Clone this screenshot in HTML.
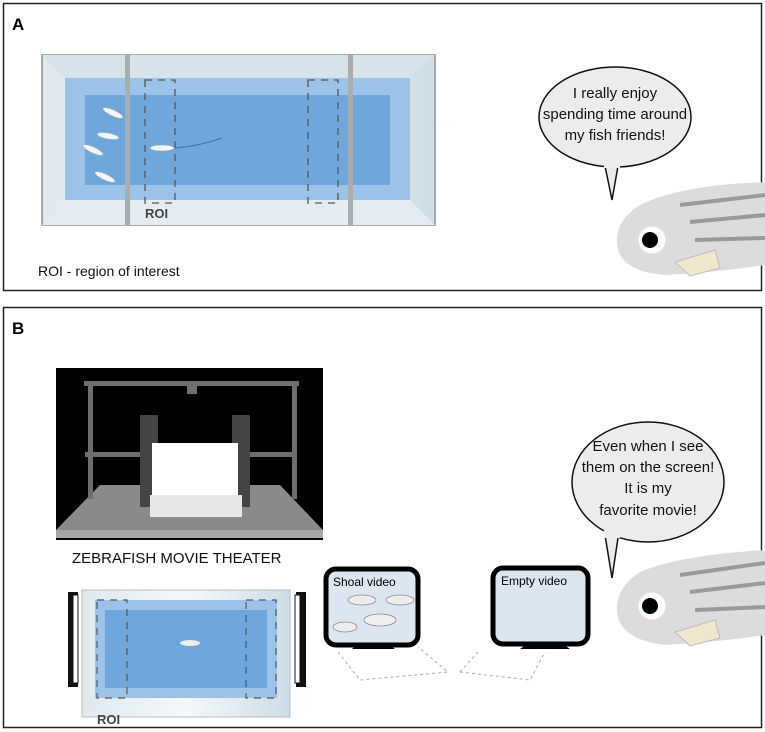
<!DOCTYPE html>
<html><head><meta charset="utf-8"><style>
html,body{margin:0;padding:0;background:#fff;}
svg{display:block;}
text{font-family:"Comic Sans MS","Liberation Sans",sans-serif;}
</style></head><body>
<svg width="765" height="732" viewBox="0 0 765 732" xmlns="http://www.w3.org/2000/svg">
<defs>
<linearGradient id="glass" x1="0" x2="1"><stop offset="0" stop-color="#dfe9ef"/><stop offset=".5" stop-color="#f4f8fa"/><stop offset="1" stop-color="#cddde6"/></linearGradient>
</defs>
<rect width="765" height="732" fill="#fff"/>
<!-- Panel A -->
<rect x="3.5" y="3.5" width="758" height="287" fill="#fff" stroke="#222" stroke-width="1.5"/>
<text x="12" y="30" font-size="17" font-weight="bold">A</text>
<rect x="42" y="55" width="393" height="170" fill="url(#glass)" stroke="#8a8f93" stroke-width="1.5"/>
<polygon points="42,55 65,78 410,78 435,55" fill="#d6e3ea"/>
<polygon points="42,225 65,200 410,200 435,225" fill="#e4ecf1"/>
<rect x="65" y="78" width="345" height="122" fill="#9dc2e8"/>
<rect x="85" y="95" width="305" height="90" fill="#6fa6dc"/>
<rect x="125" y="55" width="5" height="170" fill="#a9adb0"/>
<rect x="348" y="55" width="5" height="170" fill="#a9adb0"/>
<g fill="none" stroke="#555" stroke-width="1.3" stroke-dasharray="7,6">
<rect x="145" y="80" width="30" height="123"/><rect x="308" y="80" width="30" height="123"/>
</g>
<g fill="#f2f4f5" stroke="#9aa" stroke-width=".5">
<ellipse cx="113" cy="113" rx="11" ry="3" transform="rotate(25 113 113)"/>
<ellipse cx="108" cy="136" rx="11" ry="3" transform="rotate(10 108 136)"/>
<ellipse cx="93" cy="150" rx="11" ry="3" transform="rotate(25 93 150)"/>
<ellipse cx="105" cy="177" rx="11" ry="3" transform="rotate(25 105 177)"/>
<ellipse cx="162" cy="148" rx="12" ry="3"/>
</g>
<path d="M175 148 Q200 146 222 138" stroke="#4a6f99" fill="none"/>
<text x="145" y="218" font-size="13" font-weight="bold" fill="#444" font-family="Liberation Sans">ROI</text>
<text x="38" y="276" font-size="14" fill="#111">ROI - region of interest</text>
<ellipse cx="615" cy="117" rx="76" ry="50" fill="#ececec" stroke="#111" stroke-width="1.5"/>
<path d="M605 166 L612 200 L618 166" fill="#ececec" stroke="#111" stroke-width="1.5"/>
<rect x="604" y="160" width="16" height="8" fill="#ececec"/>
<text font-size="15" text-anchor="middle" fill="#111"><tspan x="615" y="98">I really enjoy</tspan><tspan x="615" y="119">spending time around</tspan><tspan x="615" y="140">my fish friends!</tspan></text>
<!-- fish A -->
<path d="M765 182 Q680 185 640 205 Q612 222 618 250 Q625 272 665 275 Q720 272 765 265 Z" fill="#dcdcde"/>
<g stroke="#9a9a9c" stroke-width="4" fill="none"><path d="M680 205 L765 195"/><path d="M690 222 L765 215"/><path d="M695 240 L765 238"/></g>
<polygon points="675,262 715,250 720,268 690,276" fill="#efe8cf" stroke="#bbb"/>
<circle cx="652" cy="240" r="14" fill="#fff" stroke="#f0d6d6"/><circle cx="650" cy="240" r="8" fill="#000"/>
<!-- Panel B -->
<rect x="3.5" y="307.5" width="758" height="420" fill="#fff" stroke="#222" stroke-width="1.5"/>
<text x="12" y="334" font-size="17" font-weight="bold">B</text>
<rect x="56" y="368" width="267" height="172" fill="#000"/>
<polygon points="56,530 100,485 280,485 323,530" fill="#8a8a8a"/>
<rect x="56" y="530" width="267" height="8" fill="#a5a5a5"/>
<g fill="#6e6e6e"><rect x="84" y="381" width="215" height="5"/><rect x="88" y="381" width="5" height="118"/><rect x="292" y="381" width="5" height="118"/><rect x="85" y="452" width="60" height="5"/><rect x="236" y="452" width="60" height="5"/><rect x="187" y="386" width="10" height="8"/></g>
<rect x="140" y="415" width="18" height="92" fill="#444"/><rect x="232" y="415" width="18" height="92" fill="#444"/>
<rect x="152" y="443" width="86" height="52" fill="#fff"/>
<rect x="150" y="495" width="92" height="22" fill="#e8e8e8"/>
<text x="72" y="563" font-size="15" fill="#111">ZEBRAFISH MOVIE THEATER</text>
<rect x="68" y="592" width="10" height="95" fill="#111"/><rect x="73" y="595" width="5" height="88" fill="#fff" stroke="#111"/>
<rect x="296" y="592" width="10" height="95" fill="#111"/><rect x="295" y="595" width="5" height="88" fill="#fff" stroke="#111"/>
<rect x="82" y="590" width="208" height="127" fill="url(#glass)" stroke="#bbb"/>
<rect x="95" y="600" width="182" height="98" fill="#9dc2e8"/>
<rect x="105" y="610" width="162" height="78" fill="#6fa6dc"/>
<g fill="none" stroke="#555" stroke-width="1.2" stroke-dasharray="7,6"><rect x="97" y="600" width="30" height="98"/><rect x="246" y="600" width="30" height="98"/></g>
<ellipse cx="190" cy="643" rx="10" ry="3" fill="#eee"/>
<text x="97" y="724" font-size="13" font-weight="bold" fill="#444" font-family="Liberation Sans">ROI</text>
<!-- monitors -->
<rect x="326" y="569" width="92" height="76" rx="10" fill="#dbe6f1" stroke="#000" stroke-width="5"/>
<path d="M352 649 L395 649 L388 644 L358 644Z" fill="#000"/>
<text x="333" y="586" font-size="12">Shoal video</text>
<g fill="#eee" stroke="#888" stroke-width=".8"><ellipse cx="362" cy="600" rx="14" ry="5"/><ellipse cx="400" cy="600" rx="14" ry="5"/><ellipse cx="380" cy="620" rx="16" ry="6"/><ellipse cx="345" cy="627" rx="12" ry="5"/></g>
<rect x="493" y="568" width="95" height="76" rx="10" fill="#dbe6f1" stroke="#000" stroke-width="5"/>
<path d="M520 649 L570 649 L563 644 L527 644Z" fill="#000"/>
<text x="501" y="585" font-size="12">Empty video</text>
<g fill="none" stroke="#aaa" stroke-dasharray="3,3"><path d="M338 652 L360 680 L448 672 L418 647"/><path d="M460 672 L478 652 M460 672 L530 680 L545 652"/></g>
<!-- bubble B -->
<ellipse cx="648" cy="482" rx="76" ry="60" fill="#ececec" stroke="#111" stroke-width="1.5"/>
<path d="M605 535 L612 578 L618 538" fill="#ececec" stroke="#111" stroke-width="1.5"/>
<rect x="604" y="528" width="16" height="10" fill="#ececec"/>
<text font-size="15" text-anchor="middle" fill="#111"><tspan x="648" y="451">Even when I see</tspan><tspan x="648" y="472">them on the screen!</tspan><tspan x="648" y="493">It is my</tspan><tspan x="648" y="515">favorite movie!</tspan></text>
<path d="M765 550 Q680 555 640 572 Q612 590 618 618 Q625 640 665 645 Q720 642 765 635 Z" fill="#dcdcde"/>
<g stroke="#9a9a9c" stroke-width="4" fill="none"><path d="M680 575 L765 563"/><path d="M690 592 L765 583"/><path d="M695 610 L765 607"/></g>
<polygon points="675,632 715,620 720,638 690,646" fill="#efe8cf" stroke="#bbb"/>
<circle cx="652" cy="606" r="14" fill="#fff" stroke="#f0d6d6"/><circle cx="650" cy="606" r="8" fill="#000"/>
</svg>
</body></html>
